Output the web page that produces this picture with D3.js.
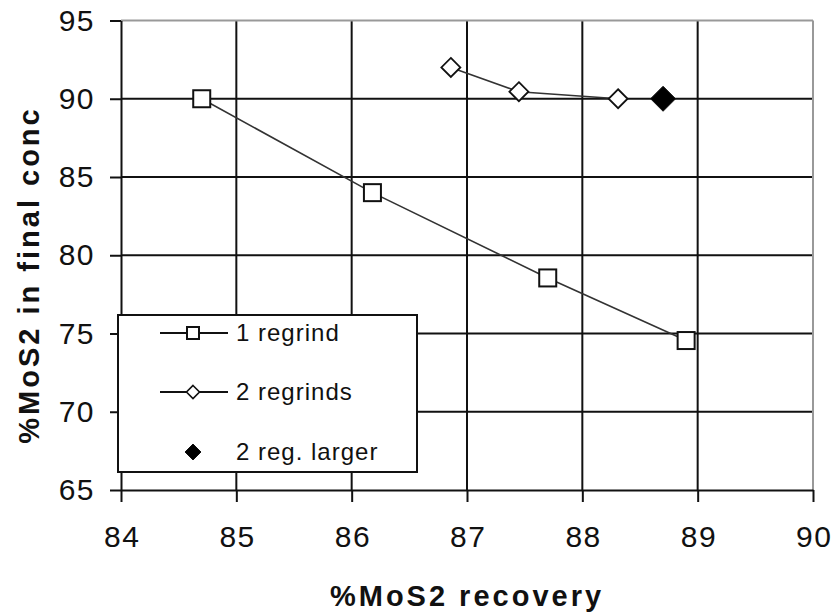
<!DOCTYPE html>
<html><head><meta charset="utf-8">
<script src="https://cdn.jsdelivr.net/npm/d3@7/dist/d3.min.js"></script>
<style>
body{margin:0;background:#fff;}
text{font-family:"Liberation Sans",Arial,sans-serif;fill:#111;}
</style></head>
<body><svg id="c" width="835" height="616"></svg>
<script>
// Data
const oneRegrindX = [84.7, 86.18, 87.7, 88.9];
const oneRegrindY = [90.0, 84.0, 78.55, 74.55];
const twoRegrindsX = [86.86, 87.45, 88.31];
const twoRegrindsY = [92.0, 90.45, 90.0];
const largerX = [88.7];
const largerY = [90.0];
const xTicks = [84, 85, 86, 87, 88, 89, 90];
const yTicks = [65, 70, 75, 80, 85, 90, 95];
const legendLabels = ["1 regrind", "2 regrinds", "2 reg. larger"];
const xTitle = "%MoS2 recovery";
const yTitle = "%MoS2 in final conc";

const svg = d3.select("#c");
const x = d3.scaleLinear().domain([84, 90]).range([121, 813]);
const y = d3.scaleLinear().domain([65, 95]).range([490, 20.5]);

// gridlines
const g = svg.append("g");
g.selectAll(".vg").data(xTicks.slice(1, -1)).join("line")
  .attr("x1", d => x(d)).attr("x2", d => x(d)).attr("y1", y(95)).attr("y2", y(65))
  .attr("stroke", "#111").attr("stroke-width", 2);
g.selectAll(".hg").data(yTicks.slice(1, -1)).join("line")
  .attr("x1", x(84)).attr("x2", x(90)).attr("y1", d => y(d)).attr("y2", d => y(d))
  .attr("stroke", "#111").attr("stroke-width", 2);
// top and right border (gray)
g.append("line").attr("x1", x(84)).attr("x2", x(90)).attr("y1", y(95)).attr("y2", y(95))
  .attr("stroke", "#999").attr("stroke-width", 2);
g.append("line").attr("x1", x(90)).attr("x2", x(90)).attr("y1", y(95)).attr("y2", y(65))
  .attr("stroke", "#999").attr("stroke-width", 2);

// axes
const ax = svg.append("g").attr("transform", `translate(0,${y(65)})`)
  .call(d3.axisBottom(x).tickValues(xTicks).tickFormat(d3.format("d")).tickSize(12).tickPadding(24).tickSizeOuter(0));
const ay = svg.append("g").attr("transform", `translate(${x(84)},0)`)
  .call(d3.axisLeft(y).tickValues(yTicks).tickFormat(d3.format("d")).tickSize(11).tickPadding(15).tickSizeOuter(0));
[ax, ay].forEach(a => {
  a.select(".domain").attr("stroke", "#111").attr("stroke-width", 2);
  a.selectAll(".tick line").attr("stroke", "#111").attr("stroke-width", 2);
  a.selectAll(".tick text").attr("font-size", 30).attr("letter-spacing", "1.5px")
    .attr("font-family", "Liberation Sans, Arial, sans-serif").attr("fill", "#111");
});
ax.selectAll(".tick text").attr("dx", "0.75px");

// lines
const line = d3.line().x(d => x(d[0])).y(d => y(d[1]));
const s1 = oneRegrindX.map((v, i) => [v, oneRegrindY[i]]);
const s2 = twoRegrindsX.map((v, i) => [v, twoRegrindsY[i]]);
const s3 = largerX.map((v, i) => [v, largerY[i]]);
svg.append("path").attr("d", line(s1)).attr("fill", "none").attr("stroke", "#333").attr("stroke-width", 1.6);
svg.append("path").attr("d", line(s2)).attr("fill", "none").attr("stroke", "#333").attr("stroke-width", 1.6);

function square(sel, cx, cy, s) {
  sel.append("rect").attr("x", cx - s / 2).attr("y", cy - s / 2).attr("width", s).attr("height", s)
    .attr("fill", "#fff").attr("stroke", "#111").attr("stroke-width", 2);
}
function diamond(sel, cx, cy, r, fill, sw) {
  sel.append("path").attr("d", `M${cx},${cy - r}L${cx + r},${cy}L${cx},${cy + r}L${cx - r},${cy}Z`)
    .attr("fill", fill).attr("stroke", "#111").attr("stroke-width", sw);
}
s1.forEach(d => square(svg, x(d[0]), y(d[1]), 17));
s2.forEach(d => diamond(svg, x(d[0]), y(d[1]), 9.5, "#fff", 1.8));
s3.forEach(d => diamond(svg, x(d[0]), y(d[1]), 12.5, "#000", 1));

// legend
const lg = svg.append("g");
lg.append("rect").attr("x", 118).attr("y", 315).attr("width", 299).attr("height", 157)
  .attr("fill", "#fff").attr("stroke", "#111").attr("stroke-width", 2);
const rows = [333, 392, 452];
lg.append("line").attr("x1", 160).attr("x2", 228).attr("y1", rows[0]).attr("y2", rows[0]).attr("stroke", "#111").attr("stroke-width", 2);
square(lg, 193, rows[0], 12);
lg.append("line").attr("x1", 160).attr("x2", 228).attr("y1", rows[1]).attr("y2", rows[1]).attr("stroke", "#111").attr("stroke-width", 2);
diamond(lg, 193, rows[1], 6.5, "#fff", 1.6);
diamond(lg, 193, rows[2], 8, "#000", 1);
legendLabels.forEach((t, i) => {
  lg.append("text").attr("x", 236).attr("y", rows[i] + 8).attr("font-size", 24).attr("letter-spacing", "1px").text(t);
});

// titles
svg.append("text").attr("x", 467).attr("y", 606).attr("text-anchor", "middle")
  .attr("font-size", 29).attr("font-weight", "bold").attr("letter-spacing", "3px").text(xTitle);
svg.append("text").attr("transform", "translate(39,275) rotate(-90)").attr("text-anchor", "middle")
  .attr("font-size", 29).attr("font-weight", "bold").attr("letter-spacing", "3px").text(yTitle);
</script></body></html>
